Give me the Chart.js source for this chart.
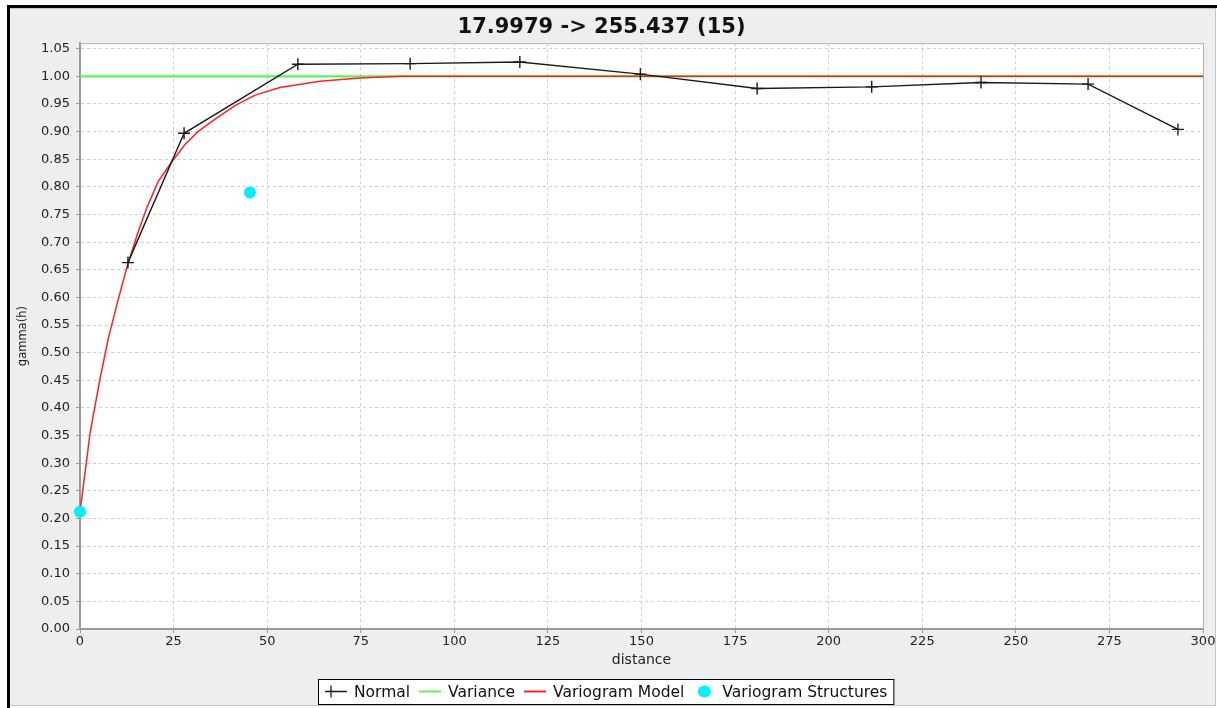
<!DOCTYPE html>
<html>
<head>
<meta charset="utf-8">
<title>Variogram</title>
<script src="https://cdn.jsdelivr.net/npm/chart.js@4/dist/chart.umd.min.js"></script>
<style>
  html, body { margin: 0; padding: 0; background: #ffffff; }
  #wrap { position: relative; width: 1217px; height: 708px; }
  canvas { display: block; }
</style>
</head>
<body>
<div id="wrap"><canvas id="chart" width="1217" height="708"></canvas></div>
<script>
// Experimental variogram ("Normal")
const normalDist  = [12.8, 27.8, 58.2, 88.2, 117.5, 149.7, 180.9, 211.5, 240.7, 269.3, 293.3];
const normalGamma = [0.663, 0.897, 1.022, 1.023, 1.026, 1.004, 0.978, 0.981, 0.989, 0.986, 0.904];

// Sill (variance)
const varianceDist  = [0, 300];
const varianceGamma = [1.0, 1.0];

// Fitted variogram model
const modelDist  = [0, 2.7, 5.3, 7.5, 10.2, 12.6, 15.3, 17.9, 20.9, 24.6, 28.1, 31.5, 36.0, 41.4, 46.8, 53.4, 64.1, 74.8, 85.5, 300];
const modelGamma = [0.212, 0.355, 0.451, 0.524, 0.596, 0.656, 0.714, 0.763, 0.810, 0.846, 0.877, 0.900, 0.922, 0.947, 0.966, 0.980, 0.991, 0.997, 1.000, 1.000];

// Structure points (nugget and range)
const structDist  = [0, 45.4];
const structGamma = [0.212, 0.790];

// Axis settings
const xTickStep = 25;
const yTickStep = 0.05;

const titleText = '17.9979 -> 255.437 (15)';

const toXY = (xs, ys) => xs.map((x, i) => ({ x: x, y: ys[i] }));

Chart.defaults.font.family = '"DejaVu Sans", sans-serif';
Chart.defaults.color = '#333333';

// Panel background and frame
const framePlugin = {
  id: 'frame',
  beforeDraw(chart) {
    const { ctx, width, height, chartArea } = chart;
    ctx.save();
    ctx.fillStyle = '#ffffff';
    ctx.fillRect(0, 0, width, height);
    ctx.fillStyle = '#eeeeee';
    ctx.fillRect(10, 8, width - 12, height - 10);
    ctx.fillStyle = '#000000';
    ctx.fillRect(7, 5, width - 7, 3);
    ctx.fillRect(7, 5, 3, height - 5);
    ctx.fillStyle = '#c4c4c4';
    ctx.fillRect(10, 8, width - 12, 1);
    ctx.fillRect(10, height - 3, width - 12, 1);
    ctx.fillRect(width - 2, 8, 1, height - 10);
    ctx.fillStyle = '#ffffff';
    ctx.fillRect(chartArea.left, chartArea.top, chartArea.right - chartArea.left, chartArea.bottom - chartArea.top);
    ctx.restore();
  },
  afterDatasetsDraw(chart) {
    const { ctx, chartArea } = chart;
    ctx.save();
    ctx.strokeStyle = '#b0b0b0';
    ctx.lineWidth = 1;
    ctx.beginPath();
    ctx.moveTo(chartArea.left, chartArea.top + 0.5);
    ctx.lineTo(chartArea.right + 0.5, chartArea.top + 0.5);
    ctx.lineTo(chartArea.right + 0.5, chartArea.bottom);
    ctx.stroke();
    ctx.restore();
  }
};

// Boxed legend below the x axis
const boxLegendPlugin = {
  id: 'boxLegend',
  afterDraw(chart) {
    const { ctx } = chart;
    const font = '15.5px "DejaVu Sans", sans-serif';
    const symW = 22, symGap = 7, itemGap = 9, padL = 7, padR = 6;
    const centerX = 606, top = 679, bottom = 704;
    const midY = (top + bottom) / 2;
    ctx.save();
    ctx.font = font;
    const items = chart.data.datasets.map(ds => ({ ds, w: ctx.measureText(ds.label).width }));
    let total = padL + padR;
    items.forEach((it, i) => { total += symW + symGap + it.w + (i < items.length - 1 ? itemGap : 0); });
    const left = Math.round(centerX - total / 2);
    ctx.fillStyle = '#ffffff';
    ctx.fillRect(left, top, total, bottom - top);
    ctx.strokeStyle = '#000000';
    ctx.lineWidth = 1;
    ctx.strokeRect(left + 0.5, top + 0.5, total, bottom - top);
    let x = left + padL;
    items.forEach(it => {
      const ds = it.ds;
      const cx = x + symW / 2;
      if (ds.legendKind === 'cross') {
        ctx.strokeStyle = ds.borderColor;
        ctx.lineWidth = 1.3;
        ctx.beginPath();
        ctx.moveTo(x, midY); ctx.lineTo(x + symW, midY);
        ctx.moveTo(x + 6, midY - 6); ctx.lineTo(x + 6, midY + 6);
        ctx.stroke();
      } else if (ds.legendKind === 'line') {
        ctx.strokeStyle = ds.borderColor;
        ctx.lineWidth = 2;
        ctx.beginPath();
        ctx.moveTo(x, midY); ctx.lineTo(x + symW, midY);
        ctx.stroke();
      } else {
        ctx.fillStyle = ds.backgroundColor;
        ctx.beginPath();
        ctx.ellipse(cx, midY, 6.5, 6, 0, 0, Math.PI * 2);
        ctx.fill();
      }
      x += symW + symGap;
      ctx.fillStyle = '#111111';
      ctx.textBaseline = 'middle';
      ctx.textAlign = 'left';
      ctx.fillText(ds.label, x, midY + 1);
      x += it.w + itemGap;
    });
    ctx.restore();
  }
};

new Chart(document.getElementById('chart'), {
  type: 'line',
  data: {
    datasets: [
      {
        label: 'Normal',
        legendKind: 'cross',
        data: toXY(normalDist, normalGamma),
        borderColor: '#1a1a1a',
        borderWidth: 1.4,
        pointStyle: 'cross',
        pointRadius: 6,
        pointBorderWidth: 1.4,
        pointBorderColor: '#1a1a1a',
        tension: 0,
        order: 1
      },
      {
        label: 'Variance',
        legendKind: 'line',
        data: toXY(varianceDist, varianceGamma),
        borderColor: '#5ef25e',
        borderWidth: 2.4,
        pointRadius: 0,
        tension: 0,
        order: 3
      },
      {
        label: 'Variogram Model',
        legendKind: 'line',
        data: toXY(modelDist, modelGamma),
        borderColor: '#ff2222',
        borderWidth: 1.5,
        pointRadius: 0,
        tension: 0,
        order: 2
      },
      {
        label: 'Variogram Structures',
        legendKind: 'dot',
        data: toXY(structDist, structGamma),
        showLine: false,
        backgroundColor: '#00f0ff',
        borderColor: '#00f0ff',
        pointStyle: 'circle',
        pointRadius: 6,
        pointBorderWidth: 0,
        order: 0
      }
    ]
  },
  options: {
    responsive: false,
    animation: false,
    events: [],
    clip: false,
    layout: { padding: { left: 0, right: 14, top: 0, bottom: 38 } },
    plugins: {
      legend: { display: false },
      tooltip: { enabled: false },
      title: {
        display: true,
        text: titleText,
        color: '#111111',
        font: { size: 21, weight: 'bold', family: '"DejaVu Sans", sans-serif' },
        padding: { top: 15, bottom: 3 }
      }
    },
    scales: {
      x: {
        type: 'linear',
        min: 0,
        max: 300,
        afterFit(scale) { scale.height = 41; },
        ticks: {
          stepSize: xTickStep,
          padding: 1,
          color: '#222222',
          font: { size: 13 },
          maxRotation: 0,
          includeBounds: false
        },
        grid: {
          color: '#cfcfcf',
          lineWidth: 1,
          drawTicks: true,
          tickLength: 4,
          tickColor: '#9a9a9a'
        },
        border: { display: true, color: '#9a9a9a', width: 2, dash: [3, 3] },
        title: {
          display: true,
          text: 'distance',
          color: '#222222',
          font: { size: 14 },
          padding: { top: 0, bottom: 1 }
        }
      },
      y: {
        type: 'linear',
        min: 0,
        max: 1.06,
        afterFit(scale) { scale.width = 80; },
        ticks: {
          stepSize: yTickStep,
          padding: 6,
          color: '#222222',
          font: { size: 13 },
          includeBounds: false,
          callback: v => Number(v).toFixed(2)
        },
        grid: {
          color: '#cfcfcf',
          lineWidth: 1,
          drawTicks: true,
          tickLength: 4,
          tickColor: '#9a9a9a'
        },
        border: { display: true, color: '#9a9a9a', width: 2, dash: [3, 3] },
        title: {
          display: true,
          text: 'gamma(h)',
          color: '#222222',
          font: { size: 11.5 },
          padding: { top: 16, bottom: 0 }
        }
      }
    }
  },
  plugins: [framePlugin, boxLegendPlugin]
});
</script>
</body>
</html>
